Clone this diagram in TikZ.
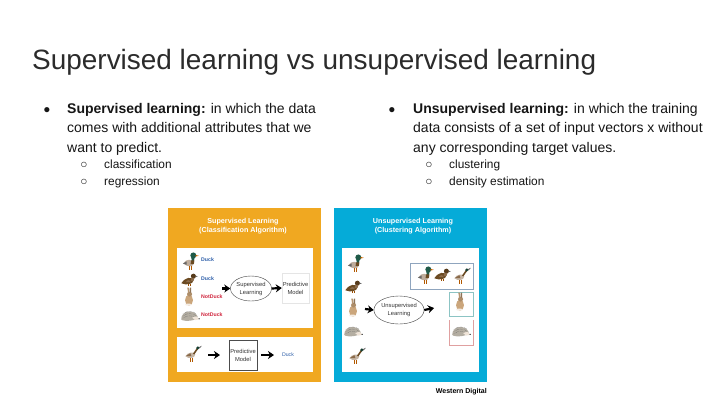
\documentclass[tikz,border=0pt]{standalone}
\usepackage{fontspec}
\setmainfont{Liberation Sans}
\usetikzlibrary{arrows.meta,shapes.geometric}
\definecolor{panelorange}{HTML}{F0A821}
\definecolor{panelblue}{HTML}{05ABD8}
\definecolor{labelblue}{HTML}{2A5CA8}
\definecolor{labelred}{HTML}{D0243C}
\definecolor{titlegray}{HTML}{2B2B2B}
\definecolor{bodyblack}{HTML}{161616}
\definecolor{duckbrown}{HTML}{8A6A4A}
\definecolor{duckdark}{HTML}{6B4A22}
\definecolor{duckgreen}{HTML}{1F5A48}
\definecolor{rabbittan}{HTML}{CBA67C}
\definecolor{hoggray}{HTML}{B4AEA2}
\definecolor{boxblue}{HTML}{8FA5BE}
\definecolor{boxteal}{HTML}{8CC4C4}
\definecolor{boxred}{HTML}{E0A0A0}
\tikzset{
  pagetitle/.style={anchor=base west,font=\fontsize{27.95}{30}\selectfont,text=titlegray,inner sep=0pt},
  bodytext/.style={anchor=base west,font=\fontsize{14}{19.5}\selectfont,text=bodyblack,inner sep=0pt,align=left},
  subtext/.style={anchor=base west,font=\fontsize{11.9}{14}\selectfont,text=bodyblack,inner sep=0pt},
  bul/.style={anchor=base,font=\fontsize{11.9}{12}\selectfont,text=bodyblack,inner sep=0pt},
  whitebox/.style={fill=white,draw=none},
  paneltitle/.style={font=\bfseries\fontsize{7.2}{9}\selectfont,text=white,align=center,inner sep=0pt},
  animallabel/.style={anchor=west,font=\bfseries\fontsize{5.2}{6}\selectfont,inner sep=0pt},
  modeltext/.style={font=\fontsize{5.8}{8}\selectfont,align=center,inner sep=0pt,text=black!80},
  fatarrow/.style={-{Stealth[length=6pt,width=8pt]},line width=2.2pt,black},
  learnoval/.style={ellipse,draw=black!75,line width=0.4pt,fill=white,inner sep=0pt,align=center,font=\fontsize{5.8}{8}\selectfont,text=black!80},
  mallard/.pic={
    \fill[duckbrown!55!white] (-6,1) .. controls (-4,-3) and (3,-3) .. (3.5,1) .. controls (3,5) and (-3,5) .. (-6,1) -- cycle;
    \fill[black!60] (-6.5,1.5) -- (-3,-0.5) -- (-3,2.5) -- cycle;
    \fill[duckgreen] (3,-6) circle (2.7);
    \fill[duckgreen] (1.2,-5) -- (4.5,-5) -- (3.5,-1) -- (1.5,-1) -- cycle;
    \fill[duckdark] (1,-1.5) -- (4,-1.5) -- (3.5,2) -- (0.5,2) -- cycle;
    \fill[orange!80!black] (5.2,-6.5) -- (8,-5.6) -- (5.2,-5) -- cycle;
    \draw[orange!70!black,line width=0.7pt] (-1,4) -- (-1,7.5) (1,4) -- (1,7.5);
  },
  brownduck/.pic={
    \fill[duckdark] (-7,3) .. controls (-3,-3) and (2,-3) .. (4,0) .. controls (4,4) and (-2,5) .. (-7,3) -- cycle;
    \fill[duckbrown] (-3,2) .. controls (-1,-1) and (1,0) .. (2,2) -- cycle;
    \fill[duckdark!80!black] (4,-3.5) circle (2.3);
    \fill[duckbrown] (2,-2) -- (5,-2) -- (4,1) -- (1.5,1) -- cycle;
    \fill[black!60] (6,-4) -- (8,-3.2) -- (6,-2.7) -- cycle;
    \draw[orange!60!black,line width=0.6pt] (-1,3.5) -- (-1,5.5) (1,3.5) -- (1,5.5);
  },
  rabbit/.pic={
    \fill[rabbittan] (0,2) ellipse (3.6 and 5);
    \fill[rabbittan!85!black] (0.5,-3.5) ellipse (2.3 and 2.2);
    \fill[rabbittan!90!black] (-0.8,-5) -- (-1.6,-9.5) -- (-0.1,-9.5) -- (0.3,-5) -- cycle;
    \fill[rabbittan!70!black] (0.6,-5) -- (0.7,-9.5) -- (2,-9.5) -- (1.9,-5) -- cycle;
    \fill[white!80!rabbittan] (-0.5,6) ellipse (3 and 1);
  },
  hedgehog/.pic={
    \fill[hoggray] (-8,3.5) .. controls (-8,-5) and (4,-6) .. (7,1) .. controls (7,5) and (-6,6) .. (-8,3.5) -- cycle;
    \foreach \ya in {-2.5,-0.5,1.5}{\draw[black!70,line width=0.35pt,densely dotted] (-6.5,\ya+1) .. controls (-3,\ya-2) and (2,\ya-2) .. (6,\ya+1);}
    \fill[white!70!rabbittan] (2,2) .. controls (5,0) and (7.5,1) .. (8.5,3) .. controls (6,4.8) and (3,4.5) .. (2,2) -- cycle;
    \fill[black] (8.3,3) circle (0.6);
  },
  pheasant/.pic={
    \fill[duckbrown!50!white] (-6,2) .. controls (-4,-2) and (2,-2) .. (3,0) .. controls (3,4) and (-3,5) .. (-6,2) -- cycle;
    \fill[duckbrown] (-5.5,1.8) -- (-1.5,-0.8) -- (-0.5,2) -- cycle;
    \draw[duckdark,line width=1.6pt] (1.5,0) -- (5,-5);
    \fill[duckgreen!70!black] (5.3,-5.5) circle (1.5);
    \fill[black!70] (6.5,-6.3) -- (9,-7.5) -- (6.8,-5) -- cycle;
    \draw[orange!70!black,line width=0.6pt] (-1.5,4) -- (-1.5,7) (0.7,4) -- (0.7,7);
  },
  animal/.style={scale=1.1,transform shape},
}
\begin{document}
\begin{tikzpicture}[x=1pt,y=-1pt]
\useasboundingbox (0,0) rectangle (720,405);
\fill[white] (0,0) rectangle (720,405);
\node[pagetitle] (title) at (32,69) {Supervised learning vs unsupervised learning};

\node[bul] (b1) at (47,113) {●};
\node[bodytext] (t1) at (67,113) {\textbf{Supervised learning:} in which the data};
\node[bodytext] (t1b) at (67,132.5) {comes with additional attributes that we};
\node[bodytext] (t1c) at (67,152) {want to predict.};
\node[bul] (b1a) at (84,168) {○};
\node[subtext] (s1a) at (104,168) {classification};
\node[bul] (b1b) at (84,185) {○};
\node[subtext] (s1b) at (104,185) {regression};

\node[bul] (b2) at (392,113) {●};
\node[bodytext] (t2) at (413,113) {\textbf{Unsupervised learning:} in which the training};
\node[bodytext] (t2b) at (413,132.5) {data consists of a set of input vectors x without};
\node[bodytext] (t2c) at (413,152) {any corresponding target values.};
\node[bul] (b2a) at (429,168) {○};
\node[subtext] (s2a) at (449,168) {clustering};
\node[bul] (b2b) at (429,185) {○};
\node[subtext] (s2b) at (449,185) {density estimation};

% left panel
\fill[panelorange] (168,208) rectangle (321,382);
\fill[whitebox] (177,248) rectangle (313,328);
\fill[whitebox] (177,337) rectangle (313,372);
\node[paneltitle] (lt) at (243,226) {Supervised Learning\\(Classification Algorithm)};
\pic[animal] at (190,262) {mallard};
\pic[animal] at (189,280) {brownduck};
\pic[animal] at (189,298) {rabbit};
\pic[animal] at (190,315.5) {hedgehog};
\node[animallabel,text=labelblue] (la) at (201,260) {Duck};
\node[animallabel,text=labelblue] (lb) at (201,279) {Duck};
\node[animallabel,text=labelred] (lc) at (201,297) {NotDuck};
\node[animallabel,text=labelred] (ld) at (201,315) {NotDuck};
\coordinate (lin) at (222,288.5);
\node[learnoval,minimum width=34pt,minimum height=25pt] (sl) at (251,288.5) {Supervised\\Learning};
\node[draw=black!10,line width=0.4pt,minimum width=27pt,minimum height=30pt,modeltext] (pm) at (295.5,288) {Predictive\\Model};
\draw[fatarrow] (lin) -- (sl.west);
\draw[fatarrow] (sl.east) -- (pm.west);
\pic[animal] at (192,354) {pheasant};
\coordinate (lq) at (208,355);
\coordinate (lq2) at (220,355);
\node[draw=black!70,line width=0.5pt,minimum width=28pt,minimum height=30pt,modeltext] (pm2) at (243,355) {Predictive\\Model};
\coordinate (ls) at (261,355);
\coordinate (ls2) at (274,355);
\node[animallabel,anchor=center,text=labelblue,font=\fontsize{5.2}{6}\selectfont] (dk) at (288,355) {Duck};
\draw[fatarrow] (lq) -- (lq2);
\draw[fatarrow] (ls) -- (ls2);

% right panel
\fill[panelblue] (334,208) rectangle (487,382);
\fill[whitebox] (342,248) rectangle (479,372);
\node[paneltitle] (rt) at (413,226) {Unsupervised Learning\\(Clustering Algorithm)};
\pic[animal] at (355,264) {mallard};
\pic[animal] at (353,287) {brownduck};
\pic[animal] at (353,309) {rabbit};
\pic[animal] at (353,331) {hedgehog};
\pic[animal] at (356,356) {pheasant};
\coordinate (rin) at (365,309);
\node[learnoval,minimum width=40pt,minimum height=28pt] (ul) at (399,310) {Unsupervised\\Learning};
\coordinate (rout) at (434,308);
\draw[fatarrow] (rin) -- (ul.west);
\draw[fatarrow] (ul.east) -- (rout);
\draw[draw=boxblue,line width=0.8pt] (410,263) rectangle (473,289);
\draw[draw=boxteal,line width=0.8pt] (449,292) rectangle (473,316);
\draw[draw=boxred,line width=0.8pt] (449,320) -- (449,345) -- (473,345) -- (473,320);
\pic[animal] at (425,276) {mallard};
\pic[animal] at (442,275) {brownduck};
\pic[animal] at (461,276) {pheasant};
\pic[animal] at (460,303) {rabbit};
\pic[animal] at (461,331) {hedgehog};
\node[anchor=east,font=\bfseries\fontsize{7}{8}\selectfont,inner sep=0pt] (wd) at (487,392) {Western Digital};
\end{tikzpicture}
\end{document}
